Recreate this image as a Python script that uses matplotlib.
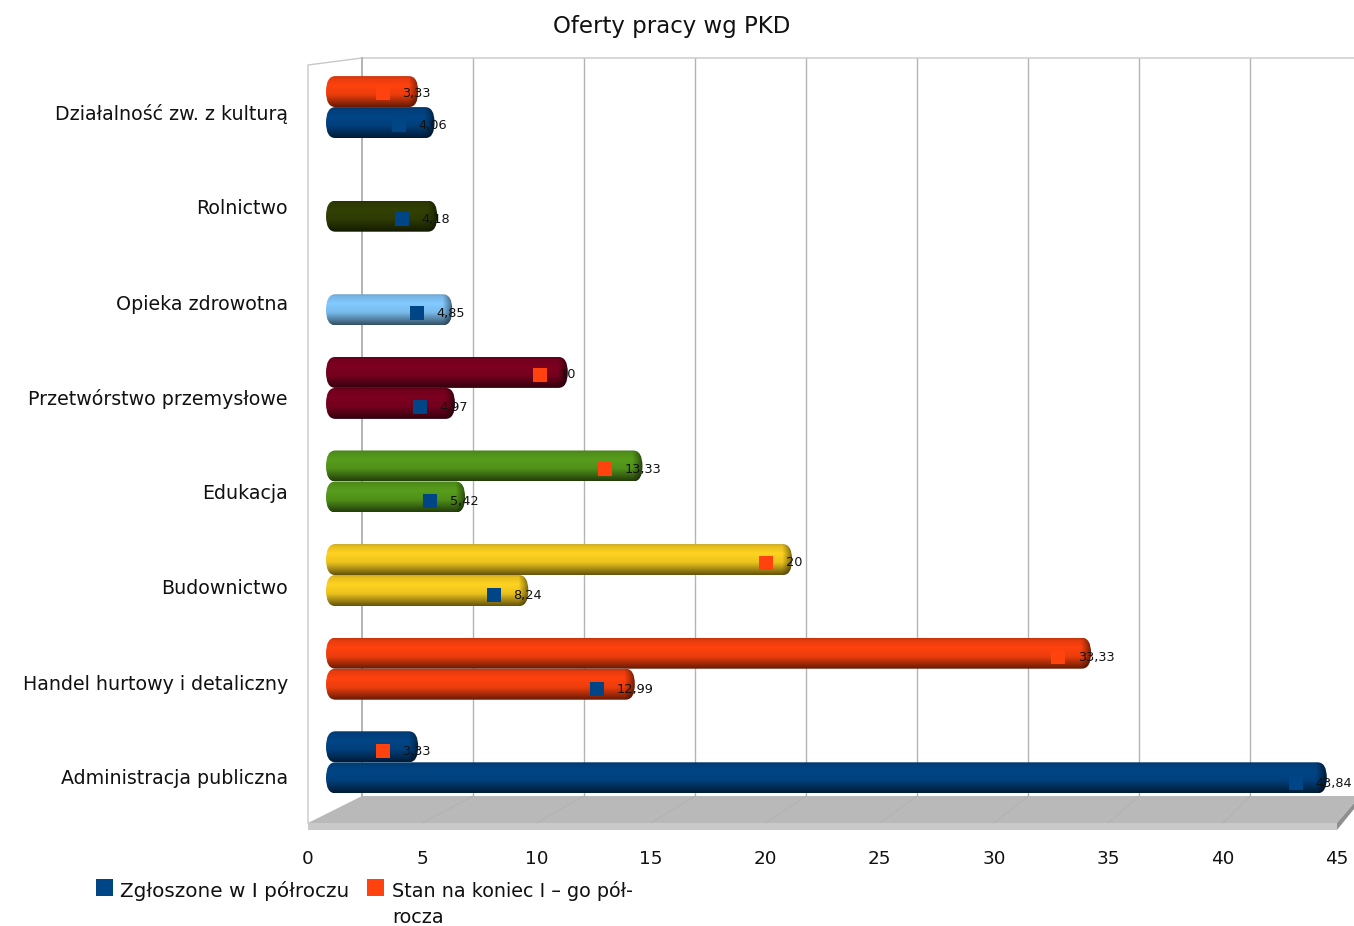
"""Oferty pracy wg PKD - bar chart with a fake 3D look."""

import matplotlib

matplotlib.use("Agg")
import matplotlib.pyplot as plt
import numpy as np
from matplotlib.colors import to_rgb
from matplotlib.patches import FancyBboxPatch, Polygon, Rectangle
from matplotlib.transforms import ScaledTranslation

W, H = 1354, 926

categories = [
    "Administracja publiczna",
    "Handel hurtowy i detaliczny",
    "Budownictwo",
    "Edukacja",
    "Przetwórstwo przemysłowe",
    "Opieka zdrowotna",
    "Rolnictwo",
    "Działalność zw. z kulturą",
]
zgloszone = [43.84, 12.99, 8.24, 5.42, 4.97, 4.85, 4.18, 4.06]
stan = [3.33, 33.33, 20, 13.33, 10, None, None, 3.33]
zgloszone_labels = ["43,84", "12,99", "8,24", "5,42", "4,97", "4,85", "4,18", "4,06"]
stan_labels = ["3,33", "33,33", "20", "13,33", "10", "", "", "3,33"]
zgloszone_colors = ["#004586", "#ff420e", "#ffd320", "#579d1c", "#7e0021", "#83caff", "#314004", "#004586"]
stan_colors = ["#004586", "#ff420e", "#ffd320", "#579d1c", "#7e0021", "#83caff", "#314004", "#ff420e"]
x_ticks = [0, 5, 10, 15, 20, 25, 30, 35, 40, 45]
grid_ticks = [0, 5, 10, 15, 20, 25, 30, 35, 40]

BLUE = "#004586"
ORANGE = "#ff420e"
TEXT = "#111111"


def px_axes(fig, left, top, right, bottom, **kwargs):
    """Axes placed by pixel box, y measured from the top of the image."""
    return fig.add_axes(
        [left / W, 1 - bottom / H, (right - left) / W, (bottom - top) / H], **kwargs
    )


def cylinder(ax, start, end, center, height, color):
    """One bar: a rounded box filled with a vertical cylinder shading."""
    rows = np.linspace(0, 1, 48)
    shade = np.interp(rows, [0, 0.06, 0.3, 0.6, 0.85, 1], [0.78, 0.9, 1.0, 0.92, 0.6, 0.4])
    cols = np.linspace(start, end, 400)
    cap = np.interp(end - cols, [0, 0.18, 0.45, 0.5], [0.45, 0.7, 1.0, 1.0])
    rgb = np.array(to_rgb(color))
    img = shade[:, None, None] * cap[None, :, None] * rgb
    im = ax.imshow(
        img,
        extent=(start, end, center - height / 2, center + height / 2),
        origin="upper",
        aspect="auto",
        interpolation="bilinear",
        zorder=2,
    )
    clip = FancyBboxPatch(
        (start, center - height / 2),
        end - start,
        height,
        boxstyle="round,pad=0,rounding_size=0.42",
        mutation_aspect=0.4,
        transform=ax.transData,
        facecolor="none",
        edgecolor="none",
    )
    ax.add_patch(clip)
    im.set_clip_path(clip)


def keyed_label(ax, value, y, text, color):
    """Square key plus value label; the pair together is centred on the value."""
    label = ax.text(value, y, text, fontsize=9.3, va="center", color=TEXT, zorder=4)
    width = label.get_window_extent(fig.canvas.get_renderer()).width
    key_dx = (7.5 - (27 + width) / 2) / fig.dpi
    label_dx = (27 - (27 + width) / 2) / fig.dpi
    label.set_transform(ax.transData + ScaledTranslation(label_dx, 0, fig.dpi_scale_trans))
    ax.scatter(
        [value], [y], marker="s", s=112, color=color, linewidths=0, zorder=3,
        transform=ax.transData + ScaledTranslation(key_dx, 0, fig.dpi_scale_trans),
    )


plt.rcParams["font.family"] = "DejaVu Sans"
fig = plt.figure(figsize=(W / 100, H / 100), dpi=100)

# room: walls and floor, in image pixels
room = px_axes(fig, 0, 0, W, H)
room.set_xlim(0, W)
room.set_ylim(H, 0)
room.axis("off")
room.add_patch(Polygon([(362, 796), (1354, 796), (1354, 803), (1337, 823), (308, 823)], fc="#b9b9b9", ec="none"))
room.add_patch(Polygon([(308, 823), (1337, 823), (1337, 830), (308, 830)], fc="#c9c9c9", ec="none"))
room.add_patch(Polygon([(1337, 823), (1354, 803), (1354, 809), (1337, 830)], fc="#8f8f8f", ec="none"))
room.plot([308, 308, 362, 1354], [823, 65, 58, 58], color="#c8c8c8", lw=1)
room.plot([362, 362], [58, 796], color="#b3b3b3", lw=1.4)
for t in grid_ticks[1:]:
    room.plot([362 + 22.2 * t, 308 + 22.87 * t], [796, 823], color="#b0b0b0", lw=0.5)

# legend, first line of each entry lined up with its key
room.add_patch(Rectangle((96, 879), 17, 17, fc=BLUE, ec="none"))
room.add_patch(Rectangle((367, 879), 17, 17, fc=ORANGE, ec="none"))
room.text(120, 881, "Zgłoszone w I półroczu", fontsize=14.4, color=TEXT, va="top")
room.text(392, 881, "Stan na koniec I – go pół-\nrocza", fontsize=13.8, color=TEXT, va="top", linespacing=1.45)

# gridlines on the back wall
grid_ax = px_axes(fig, 362, 58, 1361, 796, frameon=False)
grid_ax.set_xlim(0, 45)
grid_ax.set_ylim(0, 1)
grid_ax.vlines(grid_ticks[1:], 0, 1, color="#b3b3b3", lw=1)
grid_ax.set_xticks([])
grid_ax.set_yticks([])

# front plane: x tick labels and category labels
front = px_axes(fig, 308, 65, 1337, 830, frameon=False)
front.set_xlim(0, 45)
front.set_ylim((777 - 830) / 95, (777 - 65) / 95)
front.set_xticks(x_ticks)
front.set_yticks(range(len(categories)))
front.set_yticklabels(categories, fontsize=13.7, color=TEXT)
front.tick_params(axis="x", length=0, pad=14.5, labelsize=13.2, labelcolor=TEXT)
front.tick_params(axis="y", length=0, pad=14.5)
front.patch.set_alpha(0)

# bars
bar_ax = px_axes(fig, 308, 59, W, 830, frameon=False)
BAR_H = 31 / 93.6
BAR_START = -17.5 / 22.43
for i in range(len(categories)):
    if stan[i] is not None:
        cylinder(bar_ax, BAR_START, stan[i], i + BAR_H / 2, BAR_H, stan_colors[i])
    cylinder(bar_ax, BAR_START, zgloszone[i], i - BAR_H / 2, BAR_H, zgloszone_colors[i])
bar_ax.set_xlim((308 - 343.5) / 22.43, (W - 343.5) / 22.43)
bar_ax.set_ylim((762.3 - 830) / 93.6, (762.3 - 59) / 93.6)
bar_ax.set_xticks([])
bar_ax.set_yticks([])
bar_ax.patch.set_alpha(0)

# square keys and value labels, scale slightly different from the bars
mark_ax = px_axes(fig, 327.6, 59, 327.6 + 22.65 * 45, 830, frameon=False)
mark_ax.set_xlim(0, 45)
mark_ax.set_ylim((783 - 830) / 94, (783 - 59) / 94)
mark_ax.set_xticks([])
mark_ax.set_yticks([])
mark_ax.patch.set_alpha(0)
GAP = 32 / 94
for i in range(len(categories)):
    keyed_label(mark_ax, zgloszone[i], i, zgloszone_labels[i], BLUE)
    if stan[i] is not None:
        keyed_label(mark_ax, stan[i], i + GAP, stan_labels[i], ORANGE)

fig.text(672 / W, 1 - 26 / H, "Oferty pracy wg PKD", ha="center", va="center", fontsize=16.5, color=TEXT)

fig.savefig("out.png", dpi=100)
plt.close(fig)
